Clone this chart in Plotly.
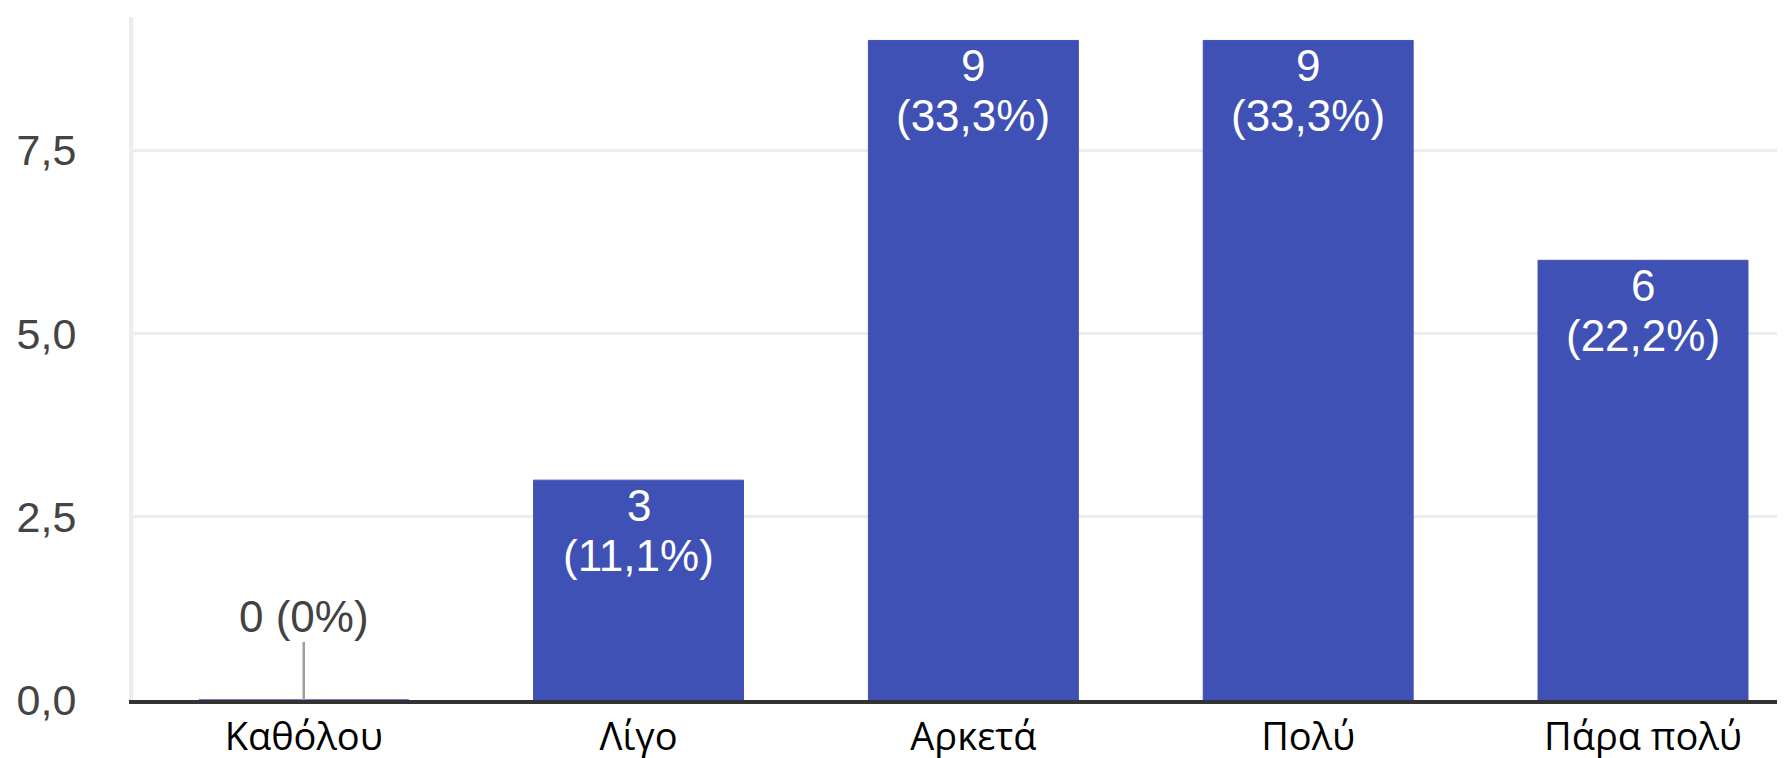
import plotly.graph_objects as go

categories = ["Καθόλου", "Λίγο", "Αρκετά", "Πολύ", "Πάρα πολύ"]
counts = [0, 3, 9, 9, 6]
percent_labels = ["0%", "11,1%", "33,3%", "33,3%", "22,2%"]
y_tickvals = [0, 2.5, 5, 7.5]
y_ticktext = ["0,0", "2,5", "5,0", "7,5"]

BAR_COLOR = "#3f51b5"
LABEL_FONT = "Liberation Sans, Arial, sans-serif"

fig = go.Figure()
fig.add_trace(go.Bar(
    x=categories,
    y=counts,
    marker=dict(color=BAR_COLOR, line=dict(color=BAR_COLOR, width=1)),
    hoverinfo="skip",
))

annotations = []
for cat, val, pct in zip(categories, counts, percent_labels):
    if val == 0:
        annotations.append(dict(
            x=cat, y=val, xref="x", yref="y",
            text=f"{val} ({pct})",
            showarrow=True, arrowhead=0, arrowwidth=2.5, arrowcolor="#9e9e9e",
            ax=0, ay=-84,
            font=dict(family=LABEL_FONT, size=44, color="#424242"),
        ))
    else:
        annotations.append(dict(
            x=cat, y=val, xref="x", yref="y",
            text=f"{val}",
            showarrow=False, yanchor="middle", yshift=-25,
            font=dict(family=LABEL_FONT, size=44, color="white"),
        ))
        annotations.append(dict(
            x=cat, y=val, xref="x", yref="y",
            text=f"({pct})",
            showarrow=False, yanchor="middle", yshift=-75,
            font=dict(family=LABEL_FONT, size=44, color="white"),
        ))

fig.update_layout(
    width=1785, height=758,
    margin=dict(l=125, r=0, t=9, b=66),
    paper_bgcolor="white", plot_bgcolor="white",
    showlegend=False,
    bargap=0.373,
    annotations=annotations,
    xaxis=dict(
        range=[-0.51, 4.448],
        showline=True, linecolor="#333333", linewidth=4,
        showgrid=False, ticks="",
        tickfont=dict(family="Open Sans, Noto Sans, sans-serif", size=38, color="black"),
        ticklabelstandoff=0,
    ),
    yaxis=dict(
        range=[0, 9.32],
        tickvals=y_tickvals, ticktext=y_ticktext,
        showgrid=True, gridcolor="#ececec", gridwidth=3,
        zeroline=False,
        showline=True, linecolor="#ececec", linewidth=4,
        ticks="",
        tickfont=dict(family=LABEL_FONT, size=43, color="#444444"),
        ticklabelstandoff=44,
    ),
)

fig.write_html("out.html")
